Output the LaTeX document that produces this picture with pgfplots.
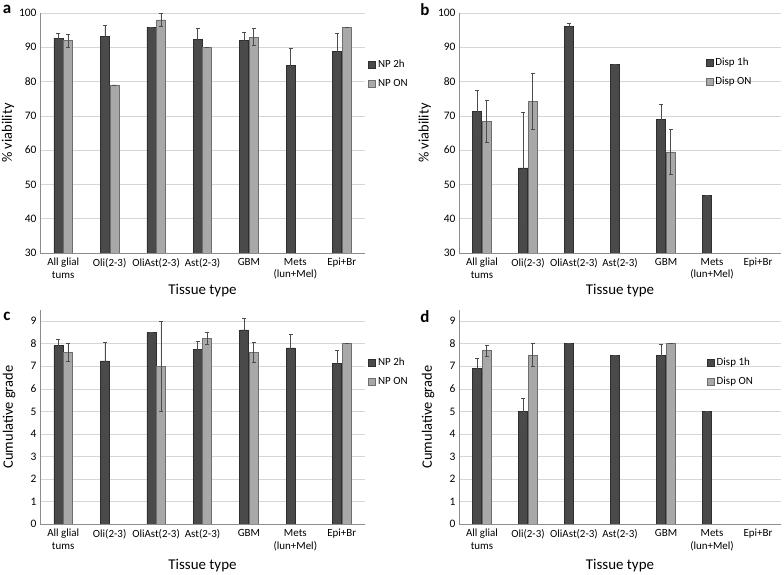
\documentclass[border=0pt]{standalone}
\usepackage{fontspec}
\setmainfont{Carlito}
\usepackage{pgfplots}
\pgfplotsset{compat=1.18}
\definecolor{darkbar}{HTML}{4A4A4A}
\definecolor{darkedge}{HTML}{2E2E2E}
\definecolor{lightbar}{HTML}{A8A8A8}
\definecolor{lightedge}{HTML}{6E6E6E}

\pgfplotsset{
  panel/.style={
    scale only axis,
    axis x line*=bottom, axis y line*=left,
    axis line style={draw=black!45, line width=0.8bp},
    ybar=0.5bp, bar width=9bp,
    xmin=-0.5, xmax=6.5,
    xtick={0,...,6},
    xticklabels={{All glial\\tums},{Oli(2-3)},{OliAst(2-3)},{Ast(2-3)},{GBM},{Mets\\(lun+Mel)},{Epi+Br}},
    x tick label style={font=\fontsize{11}{13}\selectfont, align=center, anchor=north, yshift=-1.5bp},
    y tick label style={font=\fontsize{11.5}{13}\selectfont},
    /pgf/number format/assume math mode=true,
    major tick length=0pt,
    ymajorgrids, grid style={black!16, line width=0.6bp},
    ylabel style={font=\fontsize{14.5}{16}\selectfont, anchor=center},
    xlabel style={font=\fontsize{15}{16}\selectfont, anchor=center},
    xlabel={Tissue type},
    legend style={draw=none, fill=none, font=\fontsize{11}{13}\selectfont,
      anchor=west, row sep=6bp, inner sep=0pt},
    legend cell align=left,
    legend image code/.code={\draw[##1] (0bp,-3.5bp) rectangle (7bp,3.5bp);},
    error bars/y dir=both, error bars/y explicit,
    error bars/error bar style={draw=black!70, line width=0.6bp},
    error bars/error mark options={rotate=90, mark size=2bp, draw=black!70, line width=0.6bp},
  },
  darkser/.style={fill=darkbar, draw=darkedge, line width=0.6bp},
  lightser/.style={fill=lightbar, draw=lightedge, line width=0.6bp},
}

\begin{document}
\begin{tikzpicture}
\path[use as bounding box] (0,0) rectangle (784bp,575bp);

% panel a
\begin{axis}[panel, at={(40bp,322bp)}, anchor=south west,
  width=325bp, height=240bp, ymin=30, ymax=100, ytick={30,40,...,100},
  ylabel={\% viability},
  ylabel style={at={(axis description cs:-0.098,0.5)}},
  xlabel style={at={(axis description cs:0.5,-0.158)}},
  legend style={at={(rel axis cs:1.01,0.745)}}]
\addplot[darkser] coordinates {
  (0,92.7) +- (0,1.3) (1,93.2) +- (0,3.2) (2,95.9) +- (0,0) (3,92.2) +- (0,3.4)
  (4,91.9) +- (0,2.4) (5,84.8) +- (0,5.0) (6,88.7) +- (0,5.5)};
\addlegendentry{NP 2h}
\addplot[lightser] coordinates {
  (0,91.9) +- (0,2.0) (1,79.0) +- (0,0) (2,98.0) +- (0,1.9) (3,90.0) +- (0,0)
  (4,93.0) +- (0,2.4) (6,95.9) +- (0,0)};
\addlegendentry{NP ON}
\end{axis}

% panel b
\begin{axis}[panel, at={(459bp,322bp)}, anchor=south west,
  width=322bp, height=240bp, ymin=30, ymax=100, ytick={30,40,...,100},
  ylabel={\% viability},
  ylabel style={at={(axis description cs:-0.106,0.5)}},
  xlabel style={at={(axis description cs:0.5,-0.158)}},
  legend style={at={(rel axis cs:0.766,0.754)}}]
\addplot[darkser] coordinates {
  (0,71.3) +- (0,6.2) (1,54.8) +- (0,16.1) (2,96.0) +- (0,1.0) (3,85.0) +- (0,0)
  (4,69.0) +- (0,4.5) (5,46.7) +- (0,0)};
\addlegendentry{Disp 1h}
\addplot[lightser] coordinates {
  (0,68.4) +- (0,6.2) (1,74.3) +- (0,8.1) (4,59.5) +- (0,6.5)};
\addlegendentry{Disp ON}
\end{axis}

% panel c
\begin{axis}[panel, at={(40bp,51bp)}, anchor=south west,
  width=325bp, height=214bp, ymin=0, ymax=9.5, ytick={0,1,...,9},
  ylabel={Cumulative grade},
  ylabel style={at={(axis description cs:-0.095,0.5)}},
  xlabel style={at={(axis description cs:0.5,-0.196)}},
  legend style={at={(rel axis cs:1.01,0.71)}}]
\addplot[darkser] coordinates {
  (0,7.92) +- (0,0.29) (1,7.24) +- (0,0.82) (2,8.5) +- (0,0) (3,7.75) +- (0,0.35)
  (4,8.62) +- (0,0.5) (5,7.82) +- (0,0.6) (6,7.12) +- (0,0.61)};
\addlegendentry{NP 2h}
\addplot[lightser] coordinates {
  (0,7.62) +- (0,0.4) (2,7.0) +- (0,2.0) (3,8.24) +- (0,0.25)
  (4,7.62) +- (0,0.45) (6,8.0) +- (0,0)};
\addlegendentry{NP ON}
\end{axis}

% panel d
\begin{axis}[panel, at={(459bp,51bp)}, anchor=south west,
  width=322bp, height=214bp, ymin=0, ymax=9.5, ytick={0,1,...,9},
  ylabel={Cumulative grade},
  ylabel style={at={(axis description cs:-0.096,0.5)}},
  xlabel style={at={(axis description cs:0.5,-0.196)}},
  legend style={at={(rel axis cs:0.77,0.71)}}]
\addplot[darkser] coordinates {
  (0,6.9) +- (0,0.47) (1,5.0) +- (0,0.58) (2,8.0) +- (0,0) (3,7.5) +- (0,0)
  (4,7.5) +- (0,0.47) (5,5.0) +- (0,0)};
\addlegendentry{Disp 1h}
\addplot[lightser] coordinates {
  (0,7.69) +- (0,0.24) (1,7.5) +- (0,0.5) (4,8.0) +- (0,0)};
\addlegendentry{Disp ON}
\end{axis}

\node[font=\fontsize{17}{17}\bfseries\selectfont] at (7bp,566bp) {a};
\node[font=\fontsize{17}{17}\bfseries\selectfont] at (425bp,565bp) {b};
\node[font=\fontsize{17}{17}\bfseries\selectfont] at (7bp,259bp) {c};
\node[font=\fontsize{17}{17}\bfseries\selectfont] at (425bp,258bp) {d};
\end{tikzpicture}
\end{document}
